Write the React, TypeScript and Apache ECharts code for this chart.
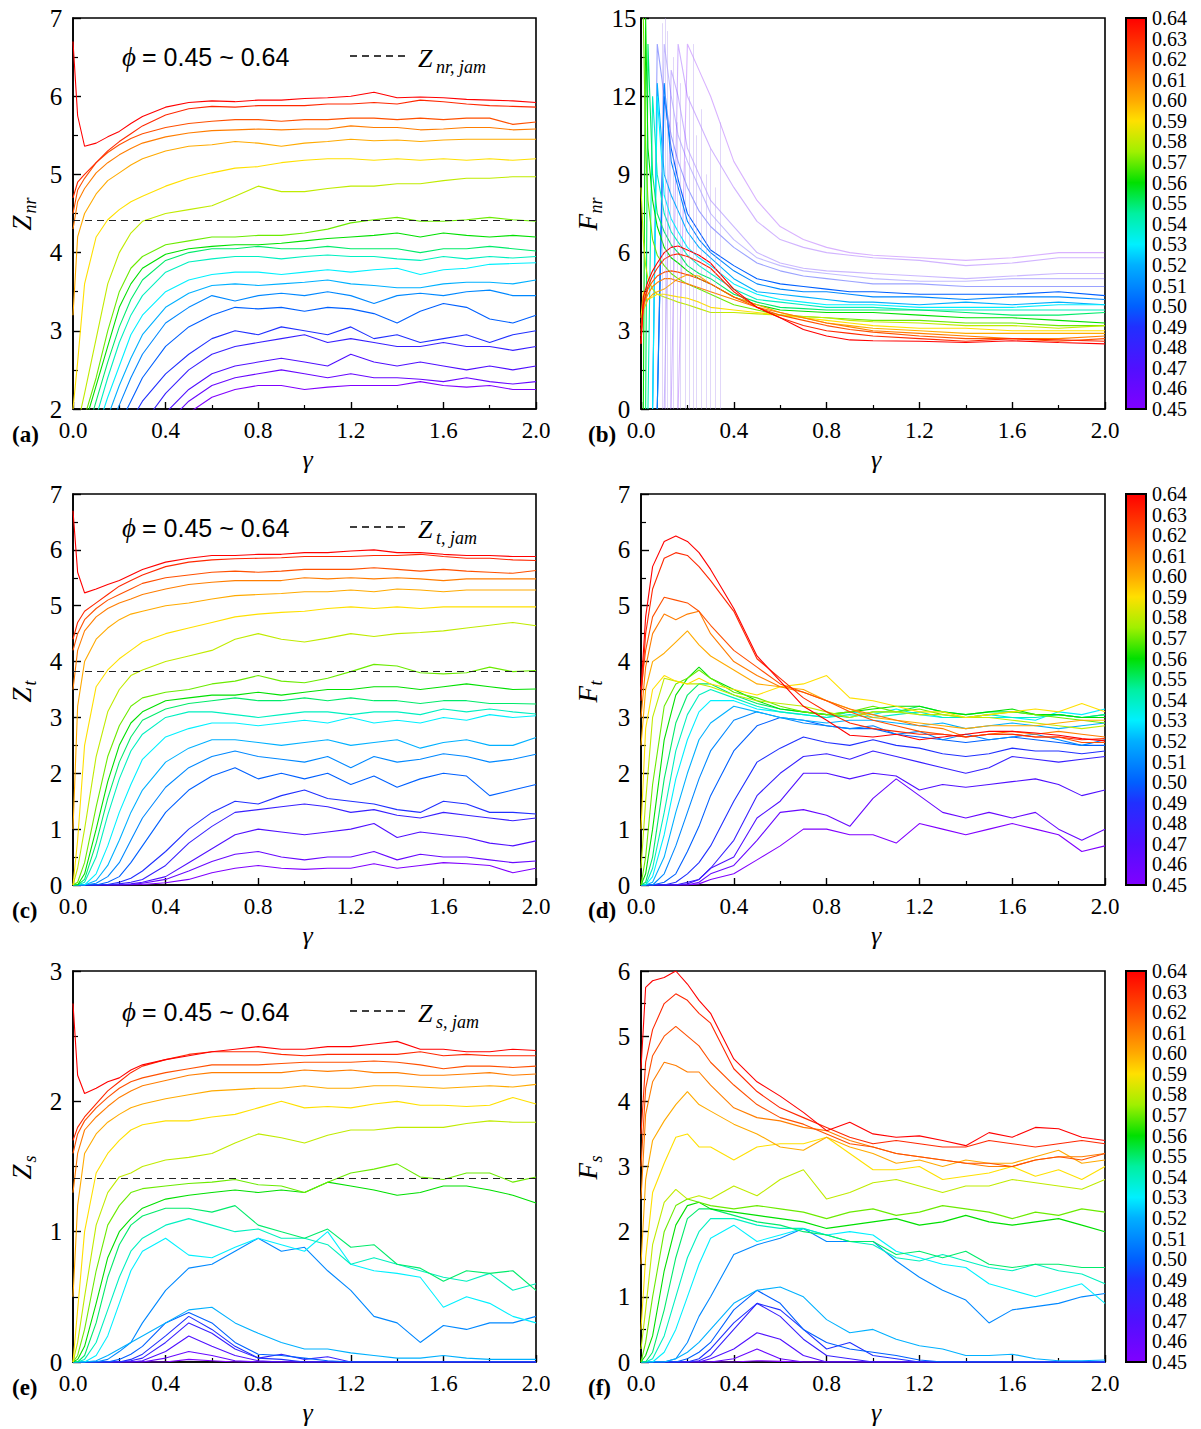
import React, { useEffect, useRef } from "react";
import * as echarts from "echarts";

// ---------------- data ----------------
const PHI = [0.45, 0.46, 0.47, 0.48, 0.49, 0.5, 0.51, 0.52, 0.53, 0.54, 0.55, 0.56, 0.57, 0.58, 0.59, 0.6, 0.61, 0.62, 0.63, 0.64];

const GAMMA = [0, 0.02, 0.05, 0.1, 0.15, 0.2, 0.25, 0.3, 0.4, 0.5, 0.6, 0.7, 0.8, 0.9, 1.0, 1.1, 1.2, 1.3, 1.4, 1.5, 1.6, 1.7, 1.8, 1.9, 2.0];
const GAMMA_B = [0, 0.01, 0.02, 0.03, 0.05, 0.07, 0.1, 0.13, 0.16, 0.2, 0.25, 0.3, 0.4, 0.5, 0.6, 0.7, 0.8, 0.9, 1.0, 1.2, 1.4, 1.6, 1.8, 2.0];

const X_TICK_STEP = 0.4;
const JAM_NR = 4.41;
const JAM_T = 3.82;
const JAM_S = 1.41;

// rows ordered phi = 0.45 ... 0.64
const ZNR = [
  [0.2, 0.3, 0.4, 0.5, 0.7, 0.9, 1.1, 1.3, 1.7, 1.95, 2.15, 2.25, 2.3, 2.3, 2.25, 2.28, 2.3, 2.3, 2.3, 2.35, 2.3, 2.28, 2.3, 2.25, 2.25],
  [0.3, 0.4, 0.5, 0.6, 0.8, 1.0, 1.2, 1.4, 1.8, 2.1, 2.3, 2.4, 2.45, 2.5, 2.45, 2.4, 2.45, 2.4, 2.4, 2.38, 2.35, 2.4, 2.35, 2.32, 2.35],
  [0.3, 0.4, 0.5, 0.7, 0.9, 1.1, 1.3, 1.55, 1.95, 2.25, 2.45, 2.55, 2.6, 2.65, 2.6, 2.55, 2.7, 2.6, 2.55, 2.6, 2.55, 2.5, 2.55, 2.5, 2.55],
  [0.4, 0.5, 0.6, 0.8, 1.0, 1.3, 1.55, 1.8, 2.2, 2.5, 2.7, 2.8, 2.85, 2.9, 2.95, 2.85, 2.9, 2.85, 2.8, 2.8, 2.85, 2.8, 2.8, 2.75, 2.8],
  [0.5, 0.6, 0.8, 1.0, 1.3, 1.6, 1.85, 2.1, 2.45, 2.7, 2.9, 3.0, 2.95, 3.05, 3.0, 2.95, 3.05, 2.9, 2.95, 2.85, 2.9, 2.95, 2.85, 2.95, 3.0],
  [0.6, 0.7, 0.9, 1.2, 1.5, 1.8, 2.1, 2.4, 2.8, 3.05, 3.2, 3.3, 3.28, 3.3, 3.25, 3.3, 3.28, 3.22, 3.1, 3.25, 3.35, 3.3, 3.15, 3.1, 3.2],
  [0.7, 0.8, 1.0, 1.3, 1.7, 2.05, 2.4, 2.7, 3.1, 3.3, 3.45, 3.38, 3.45, 3.48, 3.45, 3.5, 3.45, 3.35, 3.45, 3.48, 3.45, 3.5, 3.52, 3.45, 3.45],
  [0.8, 0.9, 1.1, 1.5, 1.9, 2.3, 2.65, 2.95, 3.3, 3.48, 3.58, 3.6, 3.58, 3.6, 3.62, 3.65, 3.6, 3.58, 3.55, 3.55, 3.6, 3.62, 3.62, 3.6, 3.65],
  [0.9, 1.0, 1.3, 1.7, 2.15, 2.55, 2.95, 3.2, 3.5, 3.65, 3.72, 3.75, 3.75, 3.72, 3.75, 3.78, 3.75, 3.78, 3.8, 3.72, 3.78, 3.8, 3.85, 3.86, 3.87],
  [1.0, 1.1, 1.5, 1.9, 2.4, 2.85, 3.2, 3.45, 3.75, 3.88, 3.92, 3.95, 3.95, 3.92, 3.95, 3.97, 3.95, 3.95, 3.92, 3.9, 3.95, 3.92, 3.95, 3.93, 3.95],
  [1.0, 1.2, 1.6, 2.1, 2.6, 3.05, 3.4, 3.65, 3.9, 4.0, 4.05, 4.05, 4.08, 4.05, 4.05, 4.08, 4.05, 4.05, 4.05, 4.0, 4.05, 4.05, 4.08, 4.05, 4.02],
  [1.2, 1.4, 1.8, 2.3, 2.8, 3.3, 3.6, 3.8, 3.98, 4.05, 4.08, 4.1, 4.1, 4.12, 4.15, 4.18, 4.2, 4.22, 4.25, 4.2, 4.25, 4.22, 4.2, 4.22, 4.2],
  [1.2, 1.5, 1.9, 2.4, 3.0, 3.5, 3.8, 3.95, 4.1, 4.15, 4.2, 4.2, 4.22, 4.22, 4.25, 4.3, 4.38, 4.42, 4.45, 4.4, 4.4, 4.42, 4.45, 4.42, 4.4],
  [1.5, 1.8, 2.2, 2.9, 3.6, 4.0, 4.25, 4.4, 4.5, 4.55, 4.6, 4.72, 4.85, 4.78, 4.78, 4.82, 4.85, 4.85, 4.88, 4.88, 4.92, 4.95, 4.95, 4.97, 4.97],
  [2.0, 2.6, 3.6, 4.2, 4.42, 4.55, 4.65, 4.72, 4.85, 4.95, 5.02, 5.08, 5.1, 5.15, 5.18, 5.2, 5.2, 5.18, 5.2, 5.18, 5.2, 5.18, 5.2, 5.18, 5.2],
  [3.2, 4.2, 4.5, 4.75, 4.92, 5.02, 5.12, 5.2, 5.3, 5.36, 5.38, 5.42, 5.4, 5.36, 5.4, 5.42, 5.45, 5.43, 5.44, 5.42, 5.44, 5.45, 5.45, 5.45, 5.45],
  [4.3, 4.65, 4.82, 5.02, 5.15, 5.25, 5.33, 5.4, 5.48, 5.53, 5.56, 5.57, 5.58, 5.57, 5.58, 5.58, 5.62, 5.6, 5.6, 5.57, 5.58, 5.6, 5.6, 5.57, 5.58],
  [4.5, 4.8, 4.95, 5.15, 5.28, 5.38, 5.46, 5.52, 5.6, 5.65, 5.68, 5.7, 5.7, 5.68, 5.7, 5.7, 5.72, 5.72, 5.7, 5.72, 5.7, 5.72, 5.72, 5.64, 5.67],
  [4.7, 4.9, 5.0, 5.15, 5.3, 5.42, 5.52, 5.62, 5.76, 5.84, 5.87, 5.86, 5.88, 5.88, 5.88, 5.9, 5.9, 5.92, 5.9, 5.95, 5.93, 5.9, 5.88, 5.87, 5.86],
  [6.7, 5.75, 5.36, 5.4, 5.48, 5.55, 5.65, 5.74, 5.86, 5.92, 5.94, 5.93, 5.95, 5.95, 5.97, 5.98, 6.0, 6.05, 5.98, 5.99, 5.98, 5.96, 5.95, 5.94, 5.92],
];

const FNR = [
  [null, null, null, null, null, null, null, null, 0, 14, 13, 12, 9.5, 8.0, 7.0, 6.5, 6.2, 6.0, 5.9, 5.8, 5.7, 5.8, 6.0, 6.0],
  [null, null, null, null, null, null, null, 0, 14, 12, 11, 10, 8.5, 7.2, 6.5, 6.2, 6.0, 5.9, 5.8, 5.7, 5.5, 5.6, 5.8, 5.8],
  [null, null, null, null, null, null, 0, 13, 12, 10, 9, 8, 7.0, 6.0, 5.6, 5.4, 5.3, 5.25, 5.2, 5.1, 5.0, 5.1, 5.2, 5.2],
  [null, null, null, null, null, 0, 14, 12, 10.5, 9.5, 8.5, 7.5, 6.5, 5.8, 5.5, 5.3, 5.2, 5.1, 5.0, 4.9, 4.9, 5.0, 5.0, 5.0],
  [null, null, null, null, 0, 14, 12, 10.5, 9.5, 8.5, 7.6, 7.0, 6.2, 5.6, 5.3, 5.1, 5.0, 4.9, 4.8, 4.8, 4.7, 4.7, 4.7, 4.7],
  [null, null, null, null, null, 0, 12, 10, 8.8, 7.5, 6.8, 6.1, 5.5, 5.0, 4.8, 4.7, 4.6, 4.5, 4.5, 4.4, 4.4, 4.4, 4.5, 4.35],
  [null, null, null, null, null, 0, 12.5, 9.5, 8.5, 7.2, 6.5, 6.0, 5.3, 4.8, 4.6, 4.5, 4.5, 4.4, 4.3, 4.3, 4.2, 4.3, 4.3, 4.2],
  [null, null, null, null, 0, 12.5, 9.0, 8.2, 7.6, 6.8, 6.2, 5.8, 5.0, 4.5, 4.4, 4.3, 4.2, 4.1, 4.1, 4.0, 4.1, 4.0, 4.1, 4.0],
  [null, null, null, null, 0, 12, 8.2, 7.3, 6.8, 6.2, 5.8, 5.5, 4.8, 4.4, 4.2, 4.1, 4.0, 4.0, 4.0, 3.9, 3.9, 3.9, 4.0, 4.0],
  [null, null, null, 0, 12, 9, 7.5, 6.8, 6.4, 5.9, 5.5, 5.2, 4.6, 4.2, 4.1, 4.0, 3.9, 3.9, 3.9, 3.8, 3.8, 3.8, 3.8, 3.8],
  [null, null, 0, 14, 9, 7.5, 6.8, 6.3, 6.0, 5.5, 5.2, 5.0, 4.4, 4.1, 3.9, 3.85, 3.8, 3.8, 3.8, 3.8, 3.7, 3.6, 3.6, 3.7],
  [null, 0, 15, 10, 8.0, 7.0, 6.2, 5.8, 5.6, 5.3, 5.0, 4.8, 4.3, 4.0, 3.8, 3.75, 3.7, 3.7, 3.7, 3.6, 3.5, 3.5, 3.4, 3.3],
  [null, 15, 10, 8.0, 6.5, 5.9, 5.5, 5.2, 5.0, 4.8, 4.6, 4.4, 4.0, 3.8, 3.6, 3.55, 3.5, 3.45, 3.4, 3.4, 3.3, 3.3, 3.2, 3.2],
  [8.5, 6.5, 5.5, 5.0, 4.6, 4.4, 4.3, 4.2, 4.1, 4.0, 3.85, 3.7, 3.7, 3.65, 3.6, 3.55, 3.5, 3.4, 3.35, 3.3, 3.2, 3.2, 3.1, 3.2],
  [3.5, 4.5, 4.3, 4.2, 4.3, 4.4, 4.4, 4.35, 4.3, 4.25, 4.1, 3.9, 3.8, 3.7, 3.6, 3.5, 3.4, 3.3, 3.2, 3.1, 3.1, 3.0, 3.0, 3.0],
  [3.2, 3.8, 4.0, 4.2, 4.4, 4.5, 4.6, 4.8, 5.0, 5.15, 5.1, 4.8, 4.3, 4.0, 3.7, 3.5, 3.3, 3.2, 3.1, 3.0, 2.9, 2.9, 2.9, 2.9],
  [3.0, 3.9, 4.2, 4.4, 4.7, 4.85, 5.0, 5.0, 4.9, 4.8, 4.65, 4.5, 4.2, 3.9, 3.7, 3.5, 3.3, 3.15, 3.0, 2.9, 2.8, 2.7, 2.7, 2.8],
  [2.8, 4.0, 4.3, 4.6, 4.9, 5.1, 5.25, 5.3, 5.25, 5.15, 5.0, 4.8, 4.3, 3.9, 3.6, 3.4, 3.2, 3.05, 2.95, 2.8, 2.7, 2.7, 2.6, 2.7],
  [2.5, 4.0, 4.4, 4.7, 5.1, 5.4, 5.75, 5.9, 5.95, 5.85, 5.65, 5.4, 4.5, 3.9, 3.5, 3.2, 3.0, 2.9, 2.8, 2.7, 2.6, 2.7, 2.65, 2.6],
  [2.5, 4.3, 4.6, 4.9, 5.3, 5.6, 6.0, 6.2, 6.25, 6.1, 5.9, 5.6, 4.6, 3.9, 3.5, 3.05, 2.8, 2.65, 2.62, 2.6, 2.55, 2.62, 2.55, 2.5],
];

// faint vertical streaks of the dilute (phi <= 0.49) F_nr traces: [gamma, top]
const FNR_SPIKES = [
  [0.09, 14.8], [0.105, 15], [0.115, 14.5], [0.125, 12], [0.14, 13.5], [0.155, 11], [0.17, 12.5], [0.19, 9.5],
  [0.21, 12], [0.225, 14], [0.24, 10.5], [0.26, 11.5], [0.28, 9], [0.3, 10], [0.32, 8.5], [0.34, 11],
];

const ZT = [
  [0, 0, 0, 0, 0, 0, 0, 0.01, 0.04, 0.1, 0.22, 0.3, 0.35, 0.3, 0.28, 0.3, 0.3, 0.38, 0.3, 0.35, 0.4, 0.38, 0.35, 0.22, 0.3],
  [0, 0, 0, 0, 0, 0, 0.01, 0.03, 0.1, 0.25, 0.42, 0.55, 0.6, 0.5, 0.45, 0.5, 0.5, 0.6, 0.45, 0.55, 0.5, 0.5, 0.45, 0.4, 0.43],
  [0, 0, 0, 0, 0, 0, 0.02, 0.05, 0.15, 0.4, 0.65, 0.9, 1.0, 0.95, 0.9, 0.95, 1.0, 1.1, 0.85, 0.95, 0.9, 0.85, 0.75, 0.7, 0.79],
  [0, 0, 0, 0, 0, 0.02, 0.05, 0.1, 0.35, 0.75, 1.05, 1.3, 1.35, 1.4, 1.45, 1.4, 1.3, 1.35, 1.25, 1.2, 1.3, 1.25, 1.2, 1.15, 1.2],
  [0, 0, 0, 0, 0.01, 0.05, 0.12, 0.25, 0.6, 1.0, 1.3, 1.5, 1.45, 1.6, 1.7, 1.55, 1.5, 1.45, 1.35, 1.3, 1.5, 1.45, 1.3, 1.3, 1.27],
  [0, 0, 0, 0, 0.05, 0.15, 0.4, 0.7, 1.3, 1.7, 1.95, 2.1, 1.9, 2.0, 1.9, 2.0, 1.8, 1.95, 1.75, 1.9, 2.0, 1.95, 1.6, 1.7, 1.8],
  [0, 0, 0, 0.03, 0.15, 0.4, 0.8, 1.2, 1.75, 2.1, 2.3, 2.4, 2.3, 2.25, 2.2, 2.3, 2.1, 2.3, 2.2, 2.25, 2.35, 2.3, 2.2, 2.25, 2.34],
  [0, 0, 0, 0.08, 0.35, 0.8, 1.3, 1.7, 2.2, 2.45, 2.6, 2.6, 2.55, 2.5, 2.55, 2.6, 2.5, 2.55, 2.6, 2.45, 2.55, 2.6, 2.5, 2.5, 2.64],
  [0, 0, 0, 0.2, 0.7, 1.3, 1.8, 2.25, 2.65, 2.8, 2.9, 2.9, 2.85, 2.9, 2.95, 2.9, 3.0, 2.9, 2.95, 2.9, 3.0, 2.95, 3.05, 3.0, 3.03],
  [0, 0, 0.05, 0.5, 1.25, 1.9, 2.4, 2.7, 3.0, 3.1, 3.1, 3.05, 3.0, 3.05, 3.1, 3.1, 3.05, 3.1, 3.1, 3.05, 3.15, 3.1, 3.15, 3.1, 3.06],
  [0, 0, 0.1, 0.75, 1.55, 2.2, 2.65, 2.95, 3.15, 3.25, 3.3, 3.35, 3.3, 3.3, 3.35, 3.3, 3.35, 3.3, 3.3, 3.25, 3.3, 3.3, 3.25, 3.25, 3.24],
  [0, 0, 0.2, 1.0, 1.85, 2.5, 2.9, 3.1, 3.3, 3.35, 3.4, 3.4, 3.45, 3.4, 3.45, 3.5, 3.5, 3.55, 3.55, 3.5, 3.55, 3.6, 3.55, 3.5, 3.51],
  [0, 0.05, 0.4, 1.4, 2.3, 2.85, 3.2, 3.35, 3.45, 3.5, 3.6, 3.65, 3.75, 3.65, 3.62, 3.7, 3.82, 3.95, 3.92, 3.8, 3.78, 3.8, 3.9, 3.82, 3.84],
  [0, 0.3, 1.0, 2.3, 3.1, 3.5, 3.75, 3.85, 4.0, 4.1, 4.2, 4.4, 4.5, 4.4, 4.35, 4.42, 4.5, 4.45, 4.5, 4.52, 4.55, 4.6, 4.65, 4.7, 4.64],
  [0, 0.8, 2.5, 3.55, 3.85, 4.05, 4.2, 4.35, 4.5, 4.6, 4.7, 4.8, 4.85, 4.88, 4.9, 4.95, 4.98, 4.95, 4.98, 4.95, 4.98, 4.98, 4.98, 4.98, 4.98],
  [1.0, 3.2, 4.0, 4.4, 4.6, 4.75, 4.85, 4.9, 5.0, 5.05, 5.12, 5.18, 5.2, 5.22, 5.25, 5.25, 5.28, 5.25, 5.3, 5.28, 5.25, 5.28, 5.28, 5.28, 5.28],
  [3.5, 4.2, 4.55, 4.8, 4.95, 5.05, 5.12, 5.2, 5.3, 5.38, 5.42, 5.45, 5.45, 5.45, 5.5, 5.48, 5.5, 5.48, 5.5, 5.48, 5.45, 5.48, 5.48, 5.48, 5.48],
  [4.2, 4.5, 4.75, 4.95, 5.1, 5.2, 5.3, 5.4, 5.5, 5.55, 5.6, 5.62, 5.6, 5.62, 5.65, 5.65, 5.65, 5.68, 5.65, 5.62, 5.65, 5.62, 5.6, 5.58, 5.63],
  [4.4, 4.7, 4.9, 5.05, 5.2, 5.35, 5.45, 5.55, 5.7, 5.78, 5.82, 5.84, 5.85, 5.86, 5.88, 5.88, 5.88, 5.9, 5.9, 5.92, 5.88, 5.85, 5.85, 5.82, 5.81],
  [6.7, 5.6, 5.23, 5.3, 5.38, 5.45, 5.55, 5.65, 5.78, 5.85, 5.9, 5.9, 5.92, 5.92, 5.95, 5.95, 5.98, 6.0, 5.95, 5.95, 5.92, 5.9, 5.9, 5.88, 5.88],
];

const FT = [
  [0, 0, 0, 0, 0, 0, 0.02, 0.1, 0.2, 0.45, 0.7, 1.0, 1.0, 0.9, 0.9, 0.75, 1.1, 1.0, 0.9, 1.0, 1.1, 1.0, 0.9, 0.6, 0.7],
  [0, 0, 0, 0, 0, 0, 0.05, 0.2, 0.35, 0.8, 1.3, 1.35, 1.25, 1.05, 1.55, 1.9, 1.6, 1.3, 1.2, 1.3, 1.2, 1.3, 1.0, 0.8, 1.0],
  [0, 0, 0, 0, 0, 0.02, 0.1, 0.3, 0.5, 1.2, 1.5, 2.0, 2.0, 1.9, 2.0, 1.95, 1.7, 1.8, 1.75, 1.8, 1.85, 1.9, 1.8, 1.6, 1.7],
  [0, 0, 0, 0, 0, 0.05, 0.1, 0.3, 0.8, 1.6, 2.0, 2.3, 2.35, 2.25, 2.4, 2.3, 2.2, 2.1, 2.0, 2.1, 2.3, 2.25, 2.2, 2.25, 2.3],
  [0, 0, 0, 0, 0.05, 0.2, 0.4, 0.7, 1.5, 2.2, 2.45, 2.65, 2.55, 2.5, 2.6, 2.5, 2.45, 2.35, 2.3, 2.35, 2.45, 2.4, 2.4, 2.35, 2.4],
  [0, 0, 0, 0.05, 0.2, 0.6, 1.05, 1.6, 2.4, 2.85, 3.0, 2.95, 2.85, 2.8, 2.8, 2.7, 2.65, 2.6, 2.55, 2.6, 2.65, 2.6, 2.55, 2.5, 2.5],
  [0, 0, 0, 0.2, 0.7, 1.3, 1.9, 2.4, 2.95, 3.1, 3.0, 2.9, 2.85, 2.8, 2.85, 2.7, 2.75, 2.6, 2.7, 2.6, 2.65, 2.7, 2.6, 2.5, 2.6],
  [0, 0, 0.05, 0.5, 1.3, 2.0, 2.6, 2.9, 3.2, 3.1, 3.0, 2.95, 2.9, 2.95, 2.95, 2.9, 2.85, 2.9, 2.8, 2.85, 2.9, 2.85, 2.8, 2.85, 2.9],
  [0, 0, 0.15, 0.9, 1.9, 2.6, 3.1, 3.3, 3.3, 3.15, 3.1, 3.05, 3.0, 3.1, 3.05, 3.15, 3.05, 3.0, 3.0, 3.0, 3.0, 2.95, 3.1, 3.05, 3.15],
  [0, 0, 0.3, 1.3, 2.4, 3.05, 3.4, 3.5, 3.35, 3.2, 3.1, 3.05, 3.0, 3.05, 3.0, 3.05, 3.1, 3.0, 3.0, 3.05, 3.0, 3.0, 3.05, 3.0, 3.05],
  [0, 0.05, 0.5, 1.9, 2.9, 3.4, 3.6, 3.6, 3.4, 3.25, 3.15, 3.1, 3.05, 3.0, 3.1, 3.1, 3.2, 3.1, 3.05, 3.1, 3.1, 3.05, 3.05, 3.0, 3.05],
  [0, 0.2, 1.0, 2.6, 3.4, 3.7, 3.9, 3.7, 3.5, 3.3, 3.15, 3.1, 3.05, 3.1, 3.15, 3.2, 3.2, 3.1, 3.05, 3.1, 3.15, 3.05, 3.05, 3.0, 3.0],
  [0, 0.5, 1.8, 3.2, 3.6, 3.7, 3.85, 3.7, 3.45, 3.35, 3.2, 3.1, 3.05, 3.1, 3.2, 3.1, 3.15, 3.05, 3.0, 3.05, 3.1, 3.05, 3.0, 2.95, 2.9],
  [0.3, 1.5, 3.0, 3.7, 3.65, 3.6, 3.6, 3.55, 3.4, 3.3, 3.25, 3.2, 3.1, 3.0, 3.1, 3.1, 3.05, 3.05, 3.0, 3.0, 2.95, 2.9, 2.85, 2.8, 2.85],
  [1.0, 2.8, 3.5, 3.75, 3.65, 3.6, 3.7, 3.6, 3.5, 3.4, 3.55, 3.6, 3.75, 3.35, 3.3, 3.2, 3.1, 3.1, 3.0, 3.05, 3.1, 3.15, 3.1, 3.25, 3.1],
  [2.5, 3.5, 4.0, 4.15, 4.35, 4.55, 4.3, 4.1, 3.85, 3.6, 3.55, 3.5, 3.3, 3.15, 3.0, 2.95, 2.9, 2.85, 2.8, 2.85, 2.85, 2.85, 2.9, 2.95, 2.95],
  [3.0, 3.9, 4.5, 4.85, 4.75, 4.85, 4.9, 4.5, 4.0, 3.75, 3.55, 3.45, 3.3, 3.15, 3.05, 2.95, 2.85, 2.8, 2.65, 2.7, 2.75, 2.7, 2.75, 2.7, 2.65],
  [3.5, 4.2, 4.8, 5.15, 5.1, 5.05, 4.9, 4.65, 4.2, 3.9, 3.6, 3.45, 3.3, 3.1, 2.95, 2.85, 2.75, 2.7, 2.65, 2.7, 2.7, 2.65, 2.65, 2.55, 2.55],
  [3.3, 4.5, 5.3, 5.85, 5.95, 5.9, 5.7, 5.45, 4.9, 4.05, 3.7, 3.35, 3.1, 2.9, 2.8, 2.75, 2.7, 2.7, 2.65, 2.7, 2.7, 2.65, 2.65, 2.6, 2.62],
  [3.5, 4.8, 5.7, 6.15, 6.25, 6.15, 5.95, 5.65, 4.95, 4.1, 3.65, 3.2, 2.95, 2.68, 2.65, 2.7, 2.6, 2.65, 2.7, 2.75, 2.75, 2.72, 2.68, 2.62, 2.58],
];

const ZS = [
  [0, 0, 0, 0, 0, 0, 0, 0, 0, 0.02, 0.01, 0, 0, 0, 0, 0, 0, 0, 0, 0, 0, 0, 0, 0, 0],
  [0, 0, 0, 0, 0, 0, 0, 0, 0.03, 0.08, 0.05, 0.01, 0, 0, 0, 0, 0, 0, 0, 0, 0, 0, 0, 0, 0],
  [0, 0, 0, 0, 0, 0, 0, 0.01, 0.08, 0.2, 0.12, 0.05, 0.01, 0, 0, 0, 0, 0, 0, 0, 0, 0, 0, 0, 0],
  [0, 0, 0, 0, 0, 0, 0.01, 0.03, 0.15, 0.3, 0.22, 0.1, 0.03, 0.06, 0.02, 0.04, 0, 0, 0, 0, 0, 0, 0, 0, 0],
  [0, 0, 0, 0, 0, 0, 0.02, 0.06, 0.2, 0.35, 0.25, 0.12, 0.03, 0.02, 0, 0, 0, 0, 0, 0, 0, 0, 0, 0, 0],
  [0, 0, 0, 0, 0, 0.02, 0.06, 0.12, 0.3, 0.38, 0.3, 0.15, 0.06, 0.05, 0.03, 0.01, 0, 0, 0, 0, 0, 0, 0, 0, 0],
  [0, 0, 0, 0, 0.02, 0.08, 0.15, 0.3, 0.55, 0.72, 0.75, 0.85, 0.95, 0.85, 0.88, 0.7, 0.55, 0.35, 0.3, 0.15, 0.28, 0.25, 0.3, 0.3, 0.35],
  [0, 0, 0, 0.01, 0.05, 0.1, 0.15, 0.2, 0.3, 0.4, 0.42, 0.3, 0.22, 0.15, 0.1, 0.1, 0.07, 0.05, 0.03, 0.03, 0.05, 0.03, 0.02, 0.02, 0.02],
  [0, 0, 0, 0.05, 0.2, 0.45, 0.7, 0.85, 0.95, 0.82, 0.8, 0.88, 0.95, 0.9, 0.85, 1.0, 0.75, 0.7, 0.68, 0.65, 0.42, 0.5, 0.45, 0.35, 0.3],
  [0, 0, 0.02, 0.15, 0.4, 0.65, 0.85, 0.95, 1.05, 1.1, 1.05, 1.0, 1.02, 0.95, 0.95, 0.9, 0.75, 0.8, 0.75, 0.7, 0.65, 0.62, 0.68, 0.55, 0.6],
  [0, 0, 0.05, 0.3, 0.65, 0.9, 1.05, 1.12, 1.18, 1.18, 1.15, 1.2, 1.05, 1.0, 0.95, 1.02, 0.88, 0.9, 0.75, 0.72, 0.62, 0.7, 0.68, 0.7, 0.55],
  [0, 0.02, 0.12, 0.45, 0.8, 1.0, 1.1, 1.18, 1.25, 1.28, 1.3, 1.32, 1.3, 1.32, 1.3, 1.38, 1.35, 1.32, 1.28, 1.3, 1.35, 1.35, 1.32, 1.28, 1.22],
  [0, 0.05, 0.25, 0.7, 1.05, 1.2, 1.3, 1.33, 1.35, 1.37, 1.38, 1.4, 1.36, 1.35, 1.3, 1.38, 1.45, 1.48, 1.52, 1.42, 1.4, 1.45, 1.45, 1.38, 1.42],
  [0, 0.15, 0.5, 1.05, 1.3, 1.42, 1.45, 1.5, 1.55, 1.57, 1.6, 1.68, 1.75, 1.72, 1.68, 1.74, 1.78, 1.78, 1.8, 1.8, 1.8, 1.83, 1.85, 1.84, 1.84],
  [0, 0.4, 1.0, 1.45, 1.6, 1.7, 1.78, 1.82, 1.85, 1.85, 1.88, 1.9, 1.95, 2.0, 1.95, 1.96, 1.95, 1.98, 2.0, 1.97, 1.97, 1.96, 1.97, 2.03, 1.98],
  [0.5, 1.2, 1.6, 1.75, 1.84, 1.9, 1.95, 1.98, 2.02, 2.05, 2.08, 2.09, 2.1, 2.1, 2.12, 2.1, 2.1, 2.12, 2.12, 2.11, 2.1, 2.11, 2.12, 2.11, 2.13],
  [1.3, 1.6, 1.78, 1.88, 1.96, 2.03, 2.08, 2.12, 2.16, 2.2, 2.22, 2.22, 2.22, 2.22, 2.24, 2.23, 2.24, 2.22, 2.22, 2.2, 2.2, 2.21, 2.22, 2.2, 2.21],
  [1.6, 1.75, 1.85, 1.95, 2.03, 2.1, 2.15, 2.18, 2.22, 2.25, 2.28, 2.28, 2.28, 2.29, 2.3, 2.3, 2.3, 2.31, 2.3, 2.28, 2.25, 2.27, 2.27, 2.26, 2.27],
  [1.7, 1.8, 1.88, 1.98, 2.08, 2.15, 2.22, 2.27, 2.32, 2.36, 2.38, 2.38, 2.38, 2.36, 2.35, 2.36, 2.36, 2.36, 2.36, 2.38, 2.35, 2.36, 2.35, 2.35, 2.35],
  [2.75, 2.2, 2.06, 2.1, 2.15, 2.18, 2.24, 2.28, 2.32, 2.35, 2.38, 2.4, 2.42, 2.4, 2.4, 2.42, 2.42, 2.44, 2.46, 2.4, 2.4, 2.38, 2.38, 2.4, 2.39],
];

const FS = [
  [0, 0, 0, 0, 0, 0, 0, 0, 0, 0.02, 0.01, 0, 0, 0, 0, 0, 0, 0, 0, 0, 0, 0, 0, 0, 0],
  [0, 0, 0, 0, 0, 0, 0, 0, 0.05, 0.2, 0.05, 0, 0, 0, 0, 0, 0, 0, 0, 0, 0, 0, 0, 0, 0],
  [0, 0, 0, 0, 0, 0, 0, 0.05, 0.2, 0.45, 0.35, 0.1, 0, 0, 0, 0, 0, 0, 0, 0, 0, 0, 0, 0, 0],
  [0, 0, 0, 0, 0, 0, 0.02, 0.1, 0.5, 0.9, 0.7, 0.35, 0.1, 0.05, 0, 0, 0, 0, 0, 0, 0, 0, 0, 0, 0],
  [0, 0, 0, 0, 0, 0, 0.05, 0.2, 0.6, 0.9, 0.8, 0.5, 0.2, 0.3, 0.1, 0.05, 0, 0, 0, 0, 0, 0, 0, 0, 0],
  [0, 0, 0, 0, 0, 0.05, 0.15, 0.3, 0.8, 1.1, 0.9, 0.5, 0.3, 0.2, 0.15, 0.1, 0.03, 0, 0, 0, 0, 0, 0, 0, 0],
  [0, 0, 0, 0, 0.05, 0.3, 0.7, 1.0, 1.65, 1.8, 1.9, 2.05, 1.85, 1.85, 1.85, 1.55, 1.3, 1.1, 0.95, 0.6, 0.8, 0.85, 0.9, 1.0, 1.05],
  [0, 0, 0, 0, 0.05, 0.15, 0.3, 0.5, 0.9, 1.1, 1.15, 1.0, 0.65, 0.45, 0.5, 0.35, 0.25, 0.2, 0.1, 0.1, 0.12, 0.05, 0.02, 0.02, 0.03],
  [0, 0, 0, 0.15, 0.5, 1.0, 1.5, 1.9, 2.1, 1.85, 1.95, 2.05, 1.95, 2.0, 1.95, 1.7, 1.6, 1.5, 1.45, 1.2, 1.1, 1.0, 1.1, 1.2, 0.9],
  [0, 0, 0.05, 0.4, 1.0, 1.6, 2.0, 2.2, 2.2, 2.1, 2.05, 2.05, 1.95, 1.85, 1.8, 1.6, 1.55, 1.65, 1.55, 1.45, 1.4, 1.5, 1.4, 1.35, 1.2],
  [0, 0, 0.15, 0.8, 1.6, 2.2, 2.35, 2.35, 2.25, 2.15, 2.1, 2.0, 1.95, 1.85, 1.85, 1.65, 1.7, 1.6, 1.7, 1.5, 1.45, 1.5, 1.5, 1.45, 1.45],
  [0, 0.1, 0.4, 1.4, 2.1, 2.4, 2.45, 2.35, 2.3, 2.25, 2.2, 2.15, 2.05, 2.1, 2.15, 2.2, 2.1, 2.15, 2.25, 2.15, 2.1, 2.15, 2.2, 2.1, 2.0],
  [0, 0.3, 1.0, 2.0, 2.4, 2.5, 2.45, 2.4, 2.35, 2.4, 2.35, 2.3, 2.2, 2.3, 2.35, 2.25, 2.3, 2.4, 2.35, 2.3, 2.2, 2.3, 2.25, 2.35, 2.3],
  [0.2, 0.8, 1.8, 2.45, 2.65, 2.5, 2.55, 2.5, 2.7, 2.55, 2.8, 2.95, 2.5, 2.6, 2.75, 2.8, 2.7, 2.6, 2.7, 2.7, 2.8, 2.75, 2.7, 2.65, 2.8],
  [0.5, 1.6, 2.6, 3.05, 3.45, 3.5, 3.3, 3.3, 3.1, 3.3, 3.35, 3.35, 3.45, 3.2, 2.95, 2.95, 3.0, 2.8, 2.85, 2.9, 3.0, 2.85, 2.95, 2.8, 3.0],
  [1.5, 2.8, 3.4, 3.7, 3.95, 4.15, 3.95, 3.85, 3.65, 3.5, 3.3, 3.25, 3.45, 3.3, 3.2, 3.05, 3.1, 3.0, 3.1, 3.05, 3.05, 3.15, 3.25, 3.05, 3.1],
  [2.5, 3.8, 4.3, 4.6, 4.55, 4.45, 4.45, 4.25, 3.9, 3.75, 3.7, 3.6, 3.55, 3.4, 3.3, 3.2, 3.15, 3.1, 3.05, 3.0, 3.0, 3.1, 3.15, 3.15, 3.2],
  [3.0, 4.2, 4.7, 5.0, 5.15, 5.0, 4.85, 4.6, 4.25, 3.95, 3.75, 3.65, 3.5, 3.35, 3.3, 3.2, 3.15, 3.1, 3.05, 3.05, 3.0, 3.1, 3.15, 3.1, 3.2],
  [3.5, 4.6, 5.1, 5.5, 5.65, 5.55, 5.35, 5.2, 4.5, 4.15, 3.9, 3.75, 3.6, 3.45, 3.35, 3.4, 3.35, 3.3, 3.3, 3.4, 3.35, 3.3, 3.35, 3.4, 3.35],
  [4.5, 5.75, 5.85, 5.9, 6.0, 5.8, 5.55, 5.35, 4.65, 4.3, 4.08, 3.83, 3.55, 3.68, 3.5, 3.45, 3.47, 3.4, 3.32, 3.52, 3.45, 3.6, 3.58, 3.45, 3.4],
];

// colour scale of the colour bar (phi -> colour)
const COLOR_STOPS: [number, string][] = [
  [0.45, "#8000ff"],
  [0.47, "#5010ff"],
  [0.49, "#2030ff"],
  [0.5, "#0060ff"],
  [0.52, "#00b0ff"],
  [0.53, "#00f0ff"],
  [0.545, "#00f0a0"],
  [0.56, "#00e000"],
  [0.575, "#a0f000"],
  [0.59, "#ffe000"],
  [0.6, "#ffaa00"],
  [0.62, "#ff5000"],
  [0.64, "#ff0000"],
];

// ---------------- layout / style ----------------
const SERIF = "Liberation Serif, Times New Roman, Times, serif";
const SANS = "Liberation Sans, Arial, Helvetica, sans-serif";
const ROW_TOP = [18, 494, 971];
const PLOT_H = 391;
const COL_X = [73, 641];
const COL_W = [463, 464];
const CB_X = 1126;
const CB_W = 20;
const ROW_TEXT_Y = [57, 528, 1012];

function hexToRgb(h: string) {
  const n = parseInt(h.slice(1), 16);
  return [(n >> 16) & 255, (n >> 8) & 255, n & 255];
}
function phiColor(phi: number): string {
  for (let i = 0; i < COLOR_STOPS.length - 1; i++) {
    const [p0, c0] = COLOR_STOPS[i];
    const [p1, c1] = COLOR_STOPS[i + 1];
    if (phi <= p1 + 1e-9) {
      const t = Math.max(0, Math.min(1, (phi - p0) / (p1 - p0)));
      const a = hexToRgb(c0);
      const b = hexToRgb(c1);
      const m = a.map((v, k) => Math.round(v + (b[k] - v) * t));
      return `rgb(${m[0]},${m[1]},${m[2]})`;
    }
  }
  return COLOR_STOPS[COLOR_STOPS.length - 1][1];
}

type Panel = {
  row: number;
  col: number;
  tag: string;
  sym: string;
  sub: string;
  rows: (number | null)[][];
  gamma: number[];
  yMin: number;
  yMax: number;
  yStep: number;
  jam?: number;
  faded?: boolean;
};

const PANELS: Panel[] = [
  { row: 0, col: 0, tag: "(a)", sym: "Z", sub: "nr", rows: ZNR, gamma: GAMMA, yMin: 2, yMax: 7, yStep: 1, jam: JAM_NR },
  { row: 0, col: 1, tag: "(b)", sym: "F", sub: "nr", rows: FNR, gamma: GAMMA_B, yMin: 0, yMax: 15, yStep: 3, faded: true },
  { row: 1, col: 0, tag: "(c)", sym: "Z", sub: "t", rows: ZT, gamma: GAMMA, yMin: 0, yMax: 7, yStep: 1, jam: JAM_T },
  { row: 1, col: 1, tag: "(d)", sym: "F", sub: "t", rows: FT, gamma: GAMMA, yMin: 0, yMax: 7, yStep: 1 },
  { row: 2, col: 0, tag: "(e)", sym: "Z", sub: "s", rows: ZS, gamma: GAMMA, yMin: 0, yMax: 3, yStep: 1, jam: JAM_S },
  { row: 2, col: 1, tag: "(f)", sym: "F", sub: "s", rows: FS, gamma: GAMMA, yMin: 0, yMax: 6, yStep: 1 },
];

function buildOption() {
  const grid: any[] = [];
  const xAxis: any[] = [];
  const yAxis: any[] = [];
  const series: any[] = [];
  const graphic: any[] = [];

  PANELS.forEach((p, pi) => {
    const left = COL_X[p.col];
    const width = COL_W[p.col];
    const top = ROW_TOP[p.row];
    const bottom = top + PLOT_H;
    grid.push({ left, top, width, height: PLOT_H, show: true, borderColor: "#000", borderWidth: 1.6, backgroundColor: "transparent" });
    xAxis.push({
      gridIndex: pi,
      type: "value",
      min: 0,
      max: 2,
      interval: X_TICK_STEP,
      axisLine: { show: true, onZero: false, lineStyle: { color: "#000", width: 1.6 } },
      axisTick: { show: true, inside: true, length: 7, lineStyle: { color: "#000", width: 1.4 } },
      minorTick: { show: true, splitNumber: 2, length: 4, lineStyle: { color: "#000", width: 1.2 } },
      splitLine: { show: false },
      axisLabel: { color: "#000", fontFamily: SERIF, fontSize: 23, margin: 10, formatter: (v: number) => v.toFixed(1) },
    });
    yAxis.push({
      gridIndex: pi,
      type: "value",
      min: p.yMin,
      max: p.yMax,
      interval: p.yStep,
      axisLine: { show: true, onZero: false, lineStyle: { color: "#000", width: 1.6 } },
      axisTick: { show: true, inside: true, length: 8, lineStyle: { color: "#000", width: 1.4 } },
      minorTick: { show: true, splitNumber: 2, length: 5, lineStyle: { color: "#000", width: 1.2 } },
      splitLine: { show: false },
      axisLabel: { color: "#000", fontFamily: SERIF, fontSize: 25, margin: 17, align: "center", formatter: (v: number) => String(Math.round(v)) },
    });

    p.rows.forEach((row, si) => {
      const phi = PHI[si];
      const color = phiColor(phi);
      const data = p.gamma
        .map((g, k) => [g, row[k]])
        .filter((d) => d[1] !== null && d[1] !== undefined);
      const fade = p.faded && phi < 0.495;
      const s: any = {
        type: "line",
        name: `phi ${phi.toFixed(2)}`,
        xAxisIndex: pi,
        yAxisIndex: pi,
        data,
        showSymbol: false,
        symbol: "none",
        silent: true,
        clip: true,
        lineStyle: { color, width: 1.1, opacity: fade ? (phi > 0.485 ? 0.45 : 0.3) : 1 },
        itemStyle: { color },
      };
      if (p.jam !== undefined && si === p.rows.length - 1) {
        s.markLine = {
          silent: true,
          symbol: ["none", "none"],
          label: { show: false },
          lineStyle: { color: "#222", type: [7, 5], width: 1.2 },
          data: [{ yAxis: p.jam }],
        };
      }
      if (p.faded && si === 2) {
        s.markLine = {
          silent: true,
          symbol: ["none", "none"],
          label: { show: false },
          lineStyle: { color: "#b49cf0", type: "solid", width: 1, opacity: 0.4 },
          data: FNR_SPIKES.map(([g, hi]) => [{ coord: [g, 0] }, { coord: [g, hi] }]),
        };
      }
      series.push(s);
    });

    // panel tag
    graphic.push({
      type: "text",
      x: p.col === 0 ? 12 : 588,
      y: bottom + 25,
      style: { text: p.tag, fontFamily: SERIF, fontSize: 23, fontWeight: "bold", fill: "#000", align: "left", verticalAlign: "middle" },
    });
    // x axis name
    graphic.push({
      type: "text",
      x: left + width / 2 + 3,
      y: bottom + 50,
      style: { text: "γ", fontFamily: SERIF, fontStyle: "italic", fontSize: 26, fill: "#000", align: "center", verticalAlign: "middle" },
    });
    // y axis name (rotated, with subscript)
    const subW = p.sub.length * 8;
    const start = -(17 + subW) / 2;
    graphic.push({
      type: "group",
      x: p.col === 0 ? 22 : 588,
      y: top + 196,
      rotation: Math.PI / 2,
      children: [
        { type: "text", x: start, y: 0, style: { text: p.sym, fontFamily: SERIF, fontStyle: "italic", fontSize: 27, fill: "#000", align: "left", verticalAlign: "middle" } },
        { type: "text", x: start + 17, y: 8, style: { text: p.sub, fontFamily: SERIF, fontStyle: "italic", fontSize: 18, fill: "#000", align: "left", verticalAlign: "middle" } },
      ],
    });

    if (p.col === 0) {
      const ty = ROW_TEXT_Y[p.row];
      graphic.push({
        type: "text",
        x: 122,
        y: ty,
        style: { text: "ϕ", fontFamily: SERIF, fontStyle: "italic", fontSize: 27, fill: "#000", align: "left", verticalAlign: "middle" },
      });
      graphic.push({
        type: "text",
        x: 142,
        y: ty,
        style: { text: "= 0.45 ~ 0.64", fontFamily: SANS, fontSize: 25, fill: "#000", align: "left", verticalAlign: "middle" },
      });
      graphic.push({
        type: "line",
        shape: { x1: 350, y1: ty - 1, x2: 410, y2: ty - 1 },
        style: { stroke: "#000", lineWidth: 1.3, lineDash: [7, 5] },
      });
      graphic.push({
        type: "text",
        x: 418,
        y: ty + 1,
        style: { text: p.sym, fontFamily: SERIF, fontStyle: "italic", fontSize: 26, fill: "#000", align: "left", verticalAlign: "middle" },
      });
      graphic.push({
        type: "text",
        x: 436,
        y: ty + 10,
        style: { text: `${p.sub}, jam`, fontFamily: SERIF, fontStyle: "italic", fontSize: 18, fill: "#000", align: "left", verticalAlign: "middle" },
      });
    }
  });

  // colour bars
  const gradStops = COLOR_STOPS.map(([phi, c]) => ({ offset: (0.64 - phi) / 0.19, color: c })).sort((a, b) => a.offset - b.offset);
  ROW_TOP.forEach((top, r) => {
    const gi = PANELS.length + r;
    grid.push({ left: CB_X, top, width: CB_W, height: PLOT_H, show: false });
    xAxis.push({ gridIndex: gi, type: "value", min: 0, max: 1, show: false });
    yAxis.push({
      gridIndex: gi,
      type: "category",
      data: PHI.map((v) => v.toFixed(2)),
      boundaryGap: false,
      position: "right",
      axisLine: { show: false },
      axisTick: { show: false },
      splitLine: { show: false },
      axisLabel: { color: "#000", fontFamily: SERIF, fontSize: 20, lineHeight: 20, margin: 6, interval: 0 },
    });
    graphic.push({
      type: "rect",
      shape: { x: CB_X, y: top, width: CB_W, height: PLOT_H },
      style: { fill: new echarts.graphic.LinearGradient(0, 0, 0, 1, gradStops), stroke: "#000", lineWidth: 2 },
    });
  });

  return {
    animation: false,
    backgroundColor: "#fff",
    grid,
    xAxis,
    yAxis,
    series,
    graphic: { elements: graphic },
  };
}

export default function App() {
  const ref = useRef<HTMLDivElement>(null);
  useEffect(() => {
    if (!ref.current) return;
    const chart = echarts.init(ref.current, undefined, { renderer: "svg" });
    chart.setOption(buildOption() as any);
    return () => {
      chart.dispose();
    };
  }, []);
  return (
    <div
      ref={ref}
      style={{ position: "absolute", left: 0, top: 0, width: 1201, height: 1429, background: "#fff" }}
    />
  );
}
